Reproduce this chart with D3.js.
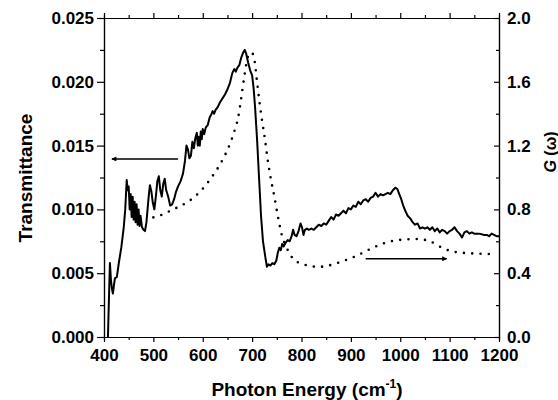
<!DOCTYPE html>
<html>
<head>
<meta charset="utf-8">
<script src="https://cdn.jsdelivr.net/npm/d3@7"></script>
<style>
    body { margin: 0; background: #fff; }
    svg { display: block; font-family: "Liberation Sans", Arial, sans-serif; font-weight: bold; }
    .axis text { font-size: 17px; font-weight: bold; fill: #000; }
    .axis path, .axis line { stroke: #000; stroke-width: 1.2; }
</style>
</head>
<body>
<div id="chart"></div>
<script>
    // transmittance (solid, left axis)
    var transX = [408, 410, 412, 414, 416, 418, 420, 422, 426, 430, 435, 440, 443, 446, 448, 450, 452, 454, 456, 458,
        460, 462, 464, 466, 468, 470, 472, 474, 477, 480, 483, 486, 490, 493, 496, 499, 502, 505, 508, 511,
        514, 517, 520, 523, 526, 530, 534, 538, 542, 546, 550, 555, 560, 564, 567, 570, 573, 576, 579, 582,
        585, 588, 590, 592, 594, 596, 598, 600, 603, 606, 610, 614, 618, 620, 623, 626, 630, 635, 640, 645,
        650, 655, 660, 664, 667, 670, 674, 678, 682, 685, 688, 692, 696, 700, 703, 706, 710, 714, 718, 722,
        727, 730, 733, 737, 741, 745, 749, 752, 755, 758, 761, 764, 768, 772, 776, 780, 783, 786, 790, 794,
        798, 801, 804, 807, 811, 815, 820, 825, 830, 835, 840, 845, 850, 855, 860, 865, 870, 875, 880, 885,
        890, 895, 900, 905, 910, 915, 920, 925, 930, 935, 940, 945, 950, 955, 960, 965, 970, 975, 980, 985,
        990, 994, 998, 1002, 1006, 1010, 1015, 1020, 1025, 1030, 1035, 1040, 1045, 1050, 1055, 1060, 1065, 1070, 1075, 1080,
        1085, 1090, 1095, 1100, 1105, 1110, 1115, 1120, 1125, 1130, 1135, 1140, 1145, 1150, 1160, 1170, 1175, 1180, 1185, 1190,
        1195, 1200];
    var transY = [0.0000, 0.0030, 0.0058, 0.0045, 0.0038, 0.0034, 0.0040, 0.0046, 0.0047, 0.0058, 0.0070, 0.0086, 0.0100, 0.0123, 0.0115, 0.0118, 0.0100, 0.0112, 0.0094, 0.0110,
        0.0092, 0.0106, 0.0090, 0.0104, 0.0088, 0.0100, 0.0087, 0.0095, 0.0086, 0.0084, 0.0083, 0.0090, 0.0108, 0.0119, 0.0114, 0.0105, 0.0100, 0.0110, 0.0122, 0.0126,
        0.0115, 0.0110, 0.0120, 0.0124, 0.0115, 0.0110, 0.0103, 0.0104, 0.0108, 0.0114, 0.0118, 0.0122, 0.0128, 0.0138, 0.0150, 0.0147, 0.0140, 0.0142, 0.0153, 0.0148,
        0.0156, 0.0160, 0.0150, 0.0157, 0.0150, 0.0161, 0.0155, 0.0163, 0.0159, 0.0164, 0.0166, 0.0172, 0.0175, 0.0177, 0.0175, 0.0178, 0.0180, 0.0184, 0.0187, 0.0190,
        0.0194, 0.0199, 0.0207, 0.0210, 0.0208, 0.0211, 0.0213, 0.0219, 0.0223, 0.0225, 0.0222, 0.0215, 0.0209, 0.0205, 0.0195, 0.0180, 0.0155, 0.0125, 0.0095, 0.0075,
        0.0062, 0.0055, 0.0057, 0.0056, 0.0058, 0.0057, 0.0060, 0.0066, 0.0070, 0.0068, 0.0073, 0.0071, 0.0074, 0.0076, 0.0075, 0.0079, 0.0084, 0.0080, 0.0079, 0.0083,
        0.0089, 0.0086, 0.0080, 0.0084, 0.0085, 0.0084, 0.0085, 0.0084, 0.0086, 0.0088, 0.0087, 0.0089, 0.0088, 0.0091, 0.0094, 0.0092, 0.0096, 0.0095, 0.0097, 0.0099,
        0.0097, 0.0101, 0.0100, 0.0103, 0.0102, 0.0106, 0.0104, 0.0107, 0.0108, 0.0106, 0.0109, 0.0110, 0.0113, 0.0110, 0.0112, 0.0111, 0.0112, 0.0113, 0.0112, 0.0115,
        0.0117, 0.0116, 0.0112, 0.0108, 0.0103, 0.0099, 0.0095, 0.0093, 0.0090, 0.0088, 0.0089, 0.0085, 0.0086, 0.0085, 0.0086, 0.0084, 0.0086, 0.0083, 0.0085, 0.0082,
        0.0084, 0.0083, 0.0081, 0.0083, 0.0084, 0.0086, 0.0083, 0.0081, 0.0078, 0.0082, 0.0083, 0.0081, 0.0082, 0.0081, 0.0081, 0.0080, 0.0080, 0.0079, 0.0081, 0.0080,
        0.0079, 0.0079];

    // G(omega) (dotted, right axis)
    var gX = [500, 520, 540, 560, 580, 600, 620, 640, 655, 665, 672, 678, 684, 690, 695, 700, 705, 710, 715, 720,
        726, 732, 738, 745, 752, 760, 770, 783, 800, 817, 834, 851, 868, 888, 905, 935, 969, 1003, 1036, 1060,
        1087, 1107, 1141, 1190];
    var gY = [0.75, 0.77, 0.80, 0.83, 0.87, 0.93, 1.01, 1.11, 1.21, 1.30, 1.38, 1.50, 1.63, 1.74, 1.78, 1.78, 1.73, 1.60, 1.47, 1.36,
        1.24, 1.10, 0.99, 0.88, 0.76, 0.64, 0.56, 0.49, 0.46, 0.445, 0.44, 0.445, 0.46, 0.48, 0.50, 0.545, 0.59, 0.61, 0.614, 0.60,
        0.556, 0.535, 0.525, 0.52];

    // tick values
    var xTicks = [400, 500, 600, 700, 800, 900, 1000, 1100, 1200];
    var leftTicks = [0, 0.005, 0.010, 0.015, 0.020, 0.025];
    var rightTicks = [0, 0.4, 0.8, 1.2, 1.6, 2.0];

    // arrow annotations: [x from, x to] at a given value
    var leftArrowX = [550, 416], leftArrowY = 0.01395;
    var rightArrowX = [930, 1094], rightArrowY = 0.49;

    var width = 558, height = 400;
    var padL = 104, padR = 499, padT = 18, padB = 337;

    var svg = d3.select("#chart").append("svg")
        .attr("width", width)
        .attr("height", height);

    var x = d3.scaleLinear().domain([400, 1200]).range([padL, padR]);
    var yL = d3.scaleLinear().domain([0, 0.025]).range([padB, padT]);
    var yR = d3.scaleLinear().domain([0, 2.0]).range([padB, padT]);

    var xMinor = d3.range(450, 1200, 100);
    var leftMinor = d3.range(0.0025, 0.025, 0.005);
    var rightMinor = d3.range(0.2, 2.0, 0.4);

    // minor ticks first (no labels)
    svg.append("g").attr("class", "axis")
        .attr("transform", "translate(0," + padB + ")")
        .call(d3.axisBottom(x).tickValues(xMinor).tickSize(3).tickFormat(""));
    svg.append("g").attr("class", "axis")
        .attr("transform", "translate(0," + padT + ")")
        .call(d3.axisTop(x).tickValues(xMinor).tickSize(3).tickFormat(""));
    svg.append("g").attr("class", "axis")
        .attr("transform", "translate(" + padL + ",0)")
        .call(d3.axisLeft(yL).tickValues(leftMinor).tickSize(4).tickFormat(""));
    svg.append("g").attr("class", "axis")
        .attr("transform", "translate(" + padR + ",0)")
        .call(d3.axisRight(yR).tickValues(rightMinor).tickSize(-3).tickFormat(""));

    // major axes
    svg.append("g").attr("class", "axis")
        .attr("transform", "translate(0," + padB + ")")
        .call(d3.axisBottom(x).tickValues(xTicks).tickSizeInner(5).tickSizeOuter(0).tickPadding(7)
            .tickFormat(d3.format("d")));
    svg.append("g").attr("class", "axis")
        .attr("transform", "translate(0," + padT + ")")
        .call(d3.axisTop(x).tickValues(xTicks).tickSizeInner(5).tickSizeOuter(0).tickFormat(""));
    svg.append("g").attr("class", "axis")
        .attr("transform", "translate(" + padL + ",0)")
        .call(d3.axisLeft(yL).tickValues(leftTicks).tickSizeInner(7).tickSizeOuter(0).tickPadding(3)
            .tickFormat(d3.format(".3f")));
    svg.append("g").attr("class", "axis")
        .attr("transform", "translate(" + padR + ",0)")
        .call(d3.axisRight(yR).tickValues(rightTicks).tickSizeInner(-5).tickSizeOuter(0).tickPadding(8)
            .tickFormat(d3.format(".1f")));

    // curves
    var transData = transX.map(function (d, i) { return [d, transY[i]]; });
    var gData = gX.map(function (d, i) { return [d, gY[i]]; });

    svg.append("path")
        .datum(transData)
        .attr("fill", "none")
        .attr("stroke", "#000")
        .attr("stroke-width", 2)
        .attr("stroke-linejoin", "round")
        .attr("d", d3.line()
            .x(function (d) { return x(d[0]); })
            .y(function (d) { return yL(d[1]); }));

    svg.append("path")
        .datum(gData)
        .attr("fill", "none")
        .attr("stroke", "#000")
        .attr("stroke-width", 2.6)
        .attr("stroke-linecap", "round")
        .attr("stroke-dasharray", "0 8.3")
        .attr("d", d3.line()
            .curve(d3.curveMonotoneX)
            .x(function (d) { return x(d[0]); })
            .y(function (d) { return yR(d[1]); }));

    // arrows
    var defs = svg.append("defs");
    defs.append("marker")
        .attr("id", "head")
        .attr("viewBox", "0 0 10 10")
        .attr("refX", 9)
        .attr("refY", 5)
        .attr("markerWidth", 9)
        .attr("markerHeight", 5)
        .attr("markerUnits", "userSpaceOnUse")
        .attr("orient", "auto")
        .append("path")
        .attr("d", "M0,0L10,5L0,10Z")
        .attr("fill", "#000");

    svg.append("line")
        .attr("x1", x(leftArrowX[0])).attr("x2", x(leftArrowX[1]))
        .attr("y1", yL(leftArrowY)).attr("y2", yL(leftArrowY))
        .attr("stroke", "#000").attr("stroke-width", 1.5)
        .attr("marker-end", "url(#head)");

    svg.append("line")
        .attr("x1", x(rightArrowX[0])).attr("x2", x(rightArrowX[1]))
        .attr("y1", yR(rightArrowY)).attr("y2", yR(rightArrowY))
        .attr("stroke", "#000").attr("stroke-width", 1.5)
        .attr("marker-end", "url(#head)");

    // axis titles
    svg.append("text")
        .attr("transform", "translate(32,178) rotate(-90)")
        .attr("text-anchor", "middle")
        .style("font-size", "19px")
        .text("Transmittance");

    var xt = svg.append("text")
        .attr("x", 307)
        .attr("y", 396)
        .attr("text-anchor", "middle")
        .style("font-size", "19px");
    xt.append("tspan").text("Photon Energy (cm");
    xt.append("tspan").attr("dy", -8).style("font-size", "12px").text("-1");
    xt.append("tspan").attr("dy", 8).text(")");

    var gt = svg.append("text")
        .attr("transform", "translate(556,152) rotate(-90)")
        .attr("text-anchor", "middle")
        .style("font-size", "16px");
    gt.append("tspan").style("font-style", "italic").text("G");
    gt.append("tspan").text(" (\u03c9)");
</script>
</body>
</html>
